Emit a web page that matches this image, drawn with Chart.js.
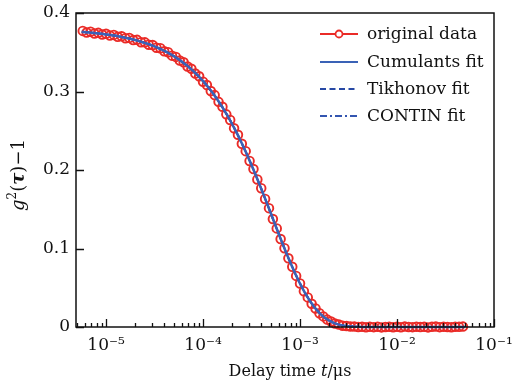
<!DOCTYPE html>
<html>
<head>
<meta charset="utf-8">
<script src="https://cdn.jsdelivr.net/npm/chart.js@4.4.0/dist/chart.umd.min.js"></script>
<style>
  html, body { margin: 0; padding: 0; background: #fff; }
  canvas { display: block; }
</style>
</head>
<body>
<canvas id="chart" width="514" height="387"></canvas>
<script>
// delay time (us) of the measured correlator channels
const dataTau = [
  5.754e-6, 6.310e-6, 6.918e-6, 7.586e-6, 8.318e-6, 9.120e-6,
  1.000e-5, 1.096e-5, 1.202e-5, 1.318e-5, 1.445e-5, 1.585e-5, 1.738e-5, 1.905e-5, 2.089e-5, 2.291e-5,
  2.512e-5, 2.754e-5, 3.020e-5, 3.311e-5, 3.631e-5, 3.981e-5, 4.365e-5, 4.786e-5, 5.248e-5, 5.754e-5,
  6.310e-5, 6.918e-5, 7.586e-5, 8.318e-5, 9.120e-5,
  1.000e-4, 1.096e-4, 1.202e-4, 1.318e-4, 1.445e-4, 1.585e-4, 1.738e-4, 1.905e-4, 2.089e-4, 2.291e-4,
  2.512e-4, 2.754e-4, 3.020e-4, 3.311e-4, 3.631e-4, 3.981e-4, 4.365e-4, 4.786e-4, 5.248e-4, 5.754e-4,
  6.310e-4, 6.918e-4, 7.586e-4, 8.318e-4, 9.120e-4,
  1.000e-3, 1.096e-3, 1.202e-3, 1.318e-3, 1.445e-3, 1.585e-3, 1.738e-3, 1.905e-3, 2.089e-3, 2.291e-3,
  2.512e-3, 2.754e-3, 3.020e-3, 3.311e-3, 3.631e-3, 3.981e-3, 4.365e-3, 4.786e-3, 5.248e-3, 5.754e-3,
  6.310e-3, 6.918e-3, 7.586e-3, 8.318e-3, 9.120e-3,
  1.000e-2, 1.096e-2, 1.202e-2, 1.318e-2, 1.445e-2, 1.585e-2, 1.738e-2, 1.905e-2, 2.089e-2, 2.291e-2,
  2.512e-2, 2.754e-2, 3.020e-2, 3.311e-2, 3.631e-2, 3.981e-2, 4.365e-2, 4.786e-2
];

const originalData = [
  0.3772, 0.3751, 0.3762, 0.3738, 0.3747, 0.3726,
  0.3735, 0.3712, 0.3721, 0.3697, 0.3704, 0.3679, 0.3683, 0.3655, 0.3658, 0.3628,
  0.3626, 0.3596, 0.3592, 0.3558, 0.3552, 0.3512, 0.3501, 0.3457, 0.3441, 0.3394,
  0.3372, 0.3318, 0.3290, 0.3229, 0.3194,
  0.3125, 0.3082, 0.3006, 0.2954, 0.2868, 0.2806, 0.2709, 0.2638, 0.2532, 0.2449,
  0.2334, 0.2240, 0.2115, 0.2012, 0.1880, 0.1768, 0.1631, 0.1514, 0.1376, 0.1256,
  0.1120, 0.1004, 0.0875, 0.0767, 0.0651,
  0.0555, 0.0456, 0.0377, 0.0296, 0.0236, 0.0176, 0.0135, 0.0094, 0.0069, 0.0044,
  0.0031, 0.0017, 0.0013, 0.0005, 0.0006, 0.0001, 0.0003, -0.0004, 0.0002, -0.0002,
  0.0004, -0.0005, 0.0001, 0.0003, -0.0003,
  0.0002, -0.0004, 0.0005, 0.0001, -0.0002, 0.0004, -0.0001, 0.0003, -0.0005, 0.0002,
  0.0006, -0.0002, 0.0003, 0.0001, -0.0003, 0.0004, 0.0002, 0.0005
];

// delay time (us) at which the three fitted curves are given
const fitTau = [
  5.62e-6, 6.31e-6, 7.08e-6, 7.94e-6, 8.91e-6, 1.00e-5, 1.12e-5, 1.26e-5, 1.41e-5, 1.58e-5,
  1.78e-5, 2.00e-5, 2.24e-5, 2.51e-5, 2.82e-5, 3.16e-5, 3.55e-5, 3.98e-5, 4.47e-5, 5.01e-5,
  5.62e-5, 6.31e-5, 7.08e-5, 7.94e-5, 8.91e-5, 1.00e-4, 1.12e-4, 1.26e-4, 1.41e-4, 1.58e-4,
  1.78e-4, 2.00e-4, 2.24e-4, 2.51e-4, 2.82e-4, 3.16e-4, 3.55e-4, 3.98e-4, 4.47e-4, 5.01e-4,
  5.62e-4, 6.31e-4, 7.08e-4, 7.94e-4, 8.91e-4, 1.00e-3, 1.12e-3, 1.26e-3, 1.41e-3, 1.58e-3,
  1.78e-3, 2.00e-3, 2.24e-3, 2.51e-3, 2.82e-3, 3.16e-3, 3.55e-3, 3.98e-3, 4.47e-3, 5.01e-3,
  5.62e-3, 6.31e-3, 7.08e-3, 7.94e-3, 8.91e-3, 1.00e-2, 1.12e-2, 1.26e-2, 1.41e-2, 1.58e-2,
  1.78e-2, 2.00e-2, 2.24e-2, 2.51e-2, 2.82e-2, 3.16e-2, 3.55e-2, 3.98e-2, 4.47e-2, 5.01e-2
];

const cumulantsFit = [
  0.3759, 0.3754, 0.3748, 0.3742, 0.3735, 0.3727, 0.3719, 0.3709, 0.3698, 0.3686,
  0.3672, 0.3656, 0.3639, 0.3620, 0.3599, 0.3575, 0.3548, 0.3519, 0.3486, 0.3450,
  0.3409, 0.3364, 0.3315, 0.3260, 0.3200, 0.3133, 0.3061, 0.2980, 0.2895, 0.2801,
  0.2695, 0.2583, 0.2466, 0.2341, 0.2205, 0.2065, 0.1915, 0.1763, 0.1604, 0.1445,
  0.1284, 0.1124, 0.0969, 0.0821, 0.0681, 0.0552, 0.0438, 0.0334, 0.0250, 0.0180,
  0.0122, 0.0080, 0.0050, 0.0030, 0.0016, 0.0009, 0.0005, 0.0003, 0.0001, 0,
  0, 0, 0, 0, 0, 0, 0, 0, 0, 0,
  0, 0, 0, 0, 0, 0, 0, 0, 0, 0
];

const tikhonovFit = [
  0.3761, 0.3755, 0.3749, 0.3743, 0.3736, 0.3728, 0.3719, 0.3709, 0.3698, 0.3685,
  0.3671, 0.3655, 0.3638, 0.3619, 0.3598, 0.3574, 0.3547, 0.3518, 0.3485, 0.3449,
  0.3409, 0.3364, 0.3315, 0.3261, 0.3201, 0.3134, 0.3062, 0.2981, 0.2896, 0.2802,
  0.2696, 0.2584, 0.2466, 0.2341, 0.2205, 0.2064, 0.1914, 0.1762, 0.1603, 0.1444,
  0.1283, 0.1124, 0.0969, 0.0822, 0.0682, 0.0553, 0.0439, 0.0336, 0.0252, 0.0182,
  0.0124, 0.0082, 0.0052, 0.0031, 0.0017, 0.0009, 0.0005, 0.0002, 0.0001, 0,
  0, 0, 0, 0, 0, 0, 0, 0, 0, 0,
  0, 0, 0, 0, 0, 0, 0, 0, 0, 0
];

const continFit = [
  0.3762, 0.3756, 0.3750, 0.3743, 0.3736, 0.3728, 0.3719, 0.3709, 0.3698, 0.3685,
  0.3671, 0.3655, 0.3638, 0.3618, 0.3597, 0.3573, 0.3547, 0.3517, 0.3485, 0.3449,
  0.3408, 0.3364, 0.3315, 0.3261, 0.3201, 0.3135, 0.3062, 0.2982, 0.2896, 0.2802,
  0.2697, 0.2585, 0.2467, 0.2341, 0.2205, 0.2064, 0.1914, 0.1761, 0.1602, 0.1443,
  0.1283, 0.1124, 0.0970, 0.0823, 0.0683, 0.0554, 0.0440, 0.0337, 0.0253, 0.0183,
  0.0125, 0.0083, 0.0053, 0.0032, 0.0018, 0.0010, 0.0005, 0.0002, 0.0001, 0,
  0, 0, 0, 0, 0, 0, 0, 0, 0, 0,
  0, 0, 0, 0, 0, 0, 0, 0, 0, 0
];

// axis tick values
const yTicks = [0, 0.1, 0.2, 0.3, 0.4];
const xMajorTicks = [1e-5, 1e-4, 1e-3, 1e-2, 1e-1];
const xMinorFactors = [2, 3, 4, 5, 6, 7, 8, 9];

const legendLabels = ['original data', 'Cumulants fit', 'Tikhonov fit', 'CONTIN fit'];

const RED = '#ea2b27';
const BLUE = '#3a62b6';
const BLUE_DARK = '#2748a4';
const BLUE_MID = '#3355b0';
const SERIF = '"DejaVu Serif", "Liberation Serif", serif';

const toXY = (xs, ys) => ys.map((v, i) => ({ x: xs[i], y: v }));

const SUP = { '-': '⁻', '0': '⁰', '1': '¹', '2': '²', '3': '³', '4': '⁴', '5': '⁵', '6': '⁶', '7': '⁷', '8': '⁸', '9': '⁹' };
const supText = s => String(s).split('').map(c => SUP[c] || c).join('');

// ticks, frame, titles and legend
const decorations = {
    id: 'decorations',
    afterDatasetsDraw(chart) {
        const { ctx, chartArea: a, scales } = chart;
        const xs = scales.x, ys = scales.y;
        ctx.save();
        ctx.strokeStyle = '#111';
        ctx.lineWidth = 1.3;

        // inward ticks on x
        ctx.beginPath();
        xMajorTicks.forEach(m => {
            const px = Math.round(xs.getPixelForValue(m)) + 0.5;
            if (px >= a.left && px <= a.right + 1) {
                ctx.moveTo(px, a.bottom); ctx.lineTo(px, a.bottom - 8);
            }
            xMinorFactors.forEach(f => {
                const v = m / 10 * f;
                const p = Math.round(xs.getPixelForValue(v)) + 0.5;
                if (p > a.left && p < a.right) {
                    ctx.moveTo(p, a.bottom); ctx.lineTo(p, a.bottom - 4);
                }
            });
        });
        // inward ticks on y
        yTicks.forEach(t => {
            const py = Math.round(ys.getPixelForValue(t)) + 0.5;
            ctx.moveTo(a.left, py); ctx.lineTo(a.left + 8, py);
        });
        ctx.stroke();

        // frame
        ctx.lineWidth = 1.5;
        ctx.strokeRect(a.left, a.top, a.right - a.left, a.bottom - a.top);

        // legend
        const rows = [34, 62, 89, 116];
        const x0 = 320, x1 = 358;
        const styles = [
            { color: RED, dash: [], marker: true },
            { color: BLUE, dash: [] },
            { color: BLUE_DARK, dash: [6, 3.5] },
            { color: BLUE_MID, dash: [7, 3, 2, 3] }
        ];
        ctx.font = '17px ' + SERIF;
        ctx.textBaseline = 'middle';
        ctx.fillStyle = '#111';
        rows.forEach((y, i) => {
            const s = styles[i];
            ctx.strokeStyle = s.color;
            ctx.lineWidth = 2;
            ctx.setLineDash(s.dash);
            ctx.beginPath();
            ctx.moveTo(x0, y); ctx.lineTo(x1, y);
            ctx.stroke();
            ctx.setLineDash([]);
            if (s.marker) {
                ctx.lineWidth = 1.8;
                ctx.beginPath();
                ctx.arc((x0 + x1) / 2, y, 3.5, 0, Math.PI * 2);
                ctx.fillStyle = '#fff';
                ctx.fill();
                ctx.stroke();
                ctx.fillStyle = '#111';
            }
            ctx.fillText(legendLabels[i], 367, y + 1);
        });

        // x title: Delay time t/us
        ctx.textBaseline = 'alphabetic';
        const parts = [
            { t: 'Delay time ', f: '16px ' + SERIF },
            { t: 't', f: 'italic 16px ' + SERIF },
            { t: '/μs', f: '16px ' + SERIF }
        ];
        let total = 0;
        parts.forEach(p => { ctx.font = p.f; p.w = ctx.measureText(p.t).width; total += p.w; });
        let cx = 290 - total / 2;
        parts.forEach(p => { ctx.font = p.f; ctx.fillText(p.t, cx, 376); cx += p.w; });

        // y title: g^2(tau)-1, rotated
        ctx.save();
        ctx.translate(24, 175);
        ctx.rotate(-Math.PI / 2);
        const yparts = [
            { t: 'g', f: 'italic 18px ' + SERIF, dy: 0 },
            { t: '2', f: '12px ' + SERIF, dy: -8 },
            { t: '(', f: '18px ' + SERIF, dy: 0 },
            { t: 'τ', f: 'italic bold 18px ' + SERIF, dy: 0 },
            { t: ')−1', f: '18px ' + SERIF, dy: 0 }
        ];
        total = 0;
        yparts.forEach(p => { ctx.font = p.f; p.w = ctx.measureText(p.t).width; total += p.w; });
        cx = -total / 2;
        yparts.forEach(p => { ctx.font = p.f; ctx.fillText(p.t, cx, p.dy); cx += p.w; });
        ctx.restore();

        ctx.restore();
    }
};

new Chart(document.getElementById('chart'), {
    type: 'line',
    data: {
        datasets: [
            {
                label: 'Cumulants fit',
                data: toXY(fitTau, cumulantsFit),
                borderColor: BLUE,
                borderWidth: 2.5,
                pointRadius: 0,
                tension: 0,
                order: 0
            },
            {
                label: 'Tikhonov fit',
                data: toXY(fitTau, tikhonovFit),
                borderColor: BLUE_DARK,
                borderWidth: 2,
                borderDash: [6, 3.5],
                pointRadius: 0,
                order: 1
            },
            {
                label: 'CONTIN fit',
                data: toXY(fitTau, continFit),
                borderColor: BLUE_MID,
                borderWidth: 2,
                borderDash: [7, 3, 2, 3],
                pointRadius: 0,
                order: 2
            },
            {
                label: 'original data',
                data: toXY(dataTau, originalData),
                borderColor: RED,
                borderWidth: 1.5,
                pointRadius: 4.3,
                pointBorderWidth: 1.9,
                pointBorderColor: RED,
                pointBackgroundColor: 'rgba(255,255,255,0)',
                order: 5
            }
        ]
    },
    options: {
        responsive: false,
        animation: false,
        clip: false,
        layout: { padding: { top: 13, right: 20, left: 0, bottom: 0 } },
        plugins: { legend: { display: false }, tooltip: { enabled: false } },
        scales: {
            x: {
                type: 'logarithmic',
                min: 4.9e-6,
                max: 0.1,
                grid: { display: false, drawTicks: false },
                border: { display: false },
                afterBuildTicks: scale => {
                    scale.ticks = xMajorTicks.map(v => ({ value: v, major: true }));
                },
                afterFit: scale => {
                    scale.height = 60;
                    scale.paddingRight = 0;
                    scale.paddingLeft = 0;
                },
                ticks: {
                    autoSkip: false,
                    maxRotation: 0,
                    minRotation: 0,
                    padding: 8,
                    color: '#111',
                    font: { family: SERIF, size: 17 },
                    callback: v => '10' + supText(Math.round(Math.log10(v)))
                }
            },
            y: {
                min: 0,
                max: 0.4,
                grid: { display: false, drawTicks: false },
                border: { display: false },
                afterBuildTicks: scale => {
                    scale.ticks = yTicks.map(v => ({ value: v }));
                },
                afterFit: scale => {
                    scale.width = 76;
                    scale.paddingTop = 0;
                    scale.paddingBottom = 0;
                },
                ticks: {
                    padding: 6,
                    color: '#111',
                    font: { family: SERIF, size: 17 },
                    callback: v => v === 0 ? '0' : v.toFixed(1)
                }
            }
        }
    },
    plugins: [decorations]
});
</script>
</body>
</html>
